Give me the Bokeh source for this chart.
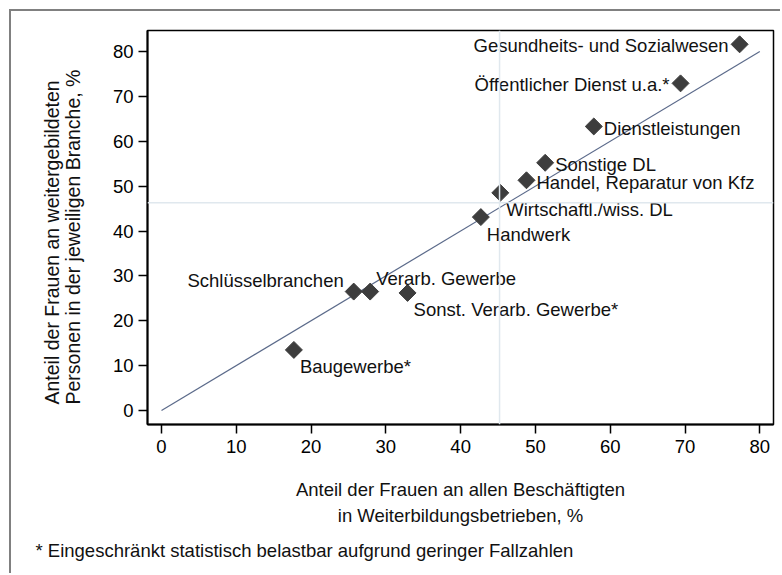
import numpy as np
from bokeh.plotting import figure
from bokeh.models import ColumnDataSource, Range1d, FixedTicker, Span, Title
from bokeh.core.properties import value
from bokeh.embed import file_html
from bokeh.resources import INLINE

# ---------------- data ----------------
branches = [
    "Gesundheits- und Sozialwesen",
    "Öffentlicher Dienst u.a.*",
    "Dienstleistungen",
    "Sonstige DL",
    "Handel, Reparatur von Kfz",
    "Wirtschaftl./wiss. DL",
    "Handwerk",
    "Sonst. Verarb. Gewerbe*",
    "Schlüsselbranchen",
    "Verarb. Gewerbe",
    "Baugewerbe*",
]
share_women_employed = [77.3, 69.4, 57.8, 51.3, 48.8, 45.3, 42.7, 32.9, 25.7, 27.9, 17.7]
share_women_trained = [81.6, 72.9, 63.3, 55.2, 51.3, 48.5, 43.1, 26.2, 26.5, 26.5, 13.5]
mean_employed = 45.2
mean_trained = 46.3
x_ticks = [0, 10, 20, 30, 40, 50, 60, 70, 80]
y_ticks = [0, 10, 20, 30, 40, 50, 60, 70, 80]
label_clock = [9, 9, 3, 3, 3, 4, 4, 4, 11, 1, 4]

x_title = ["Anteil der Frauen an allen Beschäftigten", "in Weiterbildungsbetrieben, %"]
y_title = "Anteil der Frauen an weitergebildeten\nPersonen in der jeweiligen Branche, %"
footnote = "* Eingeschränkt statistisch belastbar aufgrund geringer Fallzahlen"

# ---------------- layout ----------------
FONT = "Liberation Sans"
FS = "18.5px"
X0, X1 = -1.872, 81.83
Y0, Y1 = -3.12, 84.68
W, H = 771, 564
ML, MR, MT, MB = 136, 9, 19, 151

p = figure(
    width=W, height=H,
    output_backend="svg", toolbar_location=None,
    x_range=Range1d(X0, X1), y_range=Range1d(Y0, Y1),
    min_border_left=ML, min_border_right=MR, min_border_top=MT, min_border_bottom=MB,
    background_fill_color="white", border_fill_color="white",
    styles={"border-left": "2px solid #808080", "border-top": "2px solid #808080",
            "margin-left": "9px", "margin-top": "9px"},
)
p.xgrid.grid_line_color = None
p.ygrid.grid_line_color = None
p.outline_line_color = "black"
p.outline_line_width = 1.5

for ax, ticks in ((p.xaxis[0], x_ticks), (p.yaxis[0], y_ticks)):
    ax.ticker = FixedTicker(ticks=ticks)
    ax.axis_line_color = "black"
    ax.axis_line_width = 2
    ax.major_tick_line_color = "black"
    ax.major_tick_line_width = 1.5
    ax.major_tick_out = 9
    ax.major_tick_in = 0
    ax.minor_tick_line_color = None
    ax.major_label_text_font = FONT
    ax.major_label_text_font_size = FS
    ax.major_label_text_color = "black"
p.yaxis.major_label_orientation = "horizontal"
p.yaxis.major_label_standoff = 5
p.xaxis.major_label_standoff = 6

# first line of the x title as the axis label
xa = p.xaxis[0]
xa.axis_label = x_title[0]
xa.axis_label_standoff = 23
xa.axis_label_text_font = FONT
xa.axis_label_text_font_size = FS
xa.axis_label_text_font_style = "normal"
xa.axis_label_text_color = "#111111"

# mean reference lines
p.add_layout(Span(location=mean_employed, dimension="height", line_color="#e0e8ee", line_width=1.5))
p.add_layout(Span(location=mean_trained, dimension="width", line_color="#e0e8ee", line_width=1.5))

# 45-degree line
p.line([x_ticks[0], x_ticks[-1]], [y_ticks[0], y_ticks[-1]], line_color="#5b6a8a", line_width=1.2)

# markers
src = ColumnDataSource(dict(x=share_women_employed, y=share_women_trained))
p.scatter("x", "y", source=src, marker="square", size=12, angle=np.pi / 4,
          fill_color="#3d3d3d", line_color="#3d3d3d")

# marker labels (Stata-like clock positions)
clock = {9: ("right", -11, 1), 3: ("left", 10, 2), 4: ("left", 6, 17),
         1: ("left", 6, -13), 11: ("right", -10, -11)}
lab = ColumnDataSource(dict(
    x=share_women_employed, y=share_women_trained, name=branches,
    align=[clock[c][0] for c in label_clock],
    dx=[clock[c][1] for c in label_clock],
    dy=[clock[c][2] for c in label_clock],
))
p.text("x", "y", text="name", source=lab, text_align="align", text_baseline="middle",
       x_offset="dx", y_offset="dy", text_font=value(FONT), text_font_size=FS,
       text_color="#111111")


# remaining titles and footnote as panel titles
def add_title(text, side, align="center", offset=0, standoff=0, size=FS, lh=1.03):
    p.add_layout(Title(text=text, align=align, offset=offset, standoff=standoff,
                       text_font=FONT, text_font_size=size, text_font_style="normal",
                       text_line_height=lh, text_color="#111111"), side)


add_title(x_title[1], "below", align="center", standoff=0)
add_title(footnote, "below", align="left", offset=-112, standoff=25)
add_title(y_title, "left", align="left", offset=20, standoff=51, size="19.5px", lh=0.975)

open("out.html", "w").write(file_html(p, INLINE))
